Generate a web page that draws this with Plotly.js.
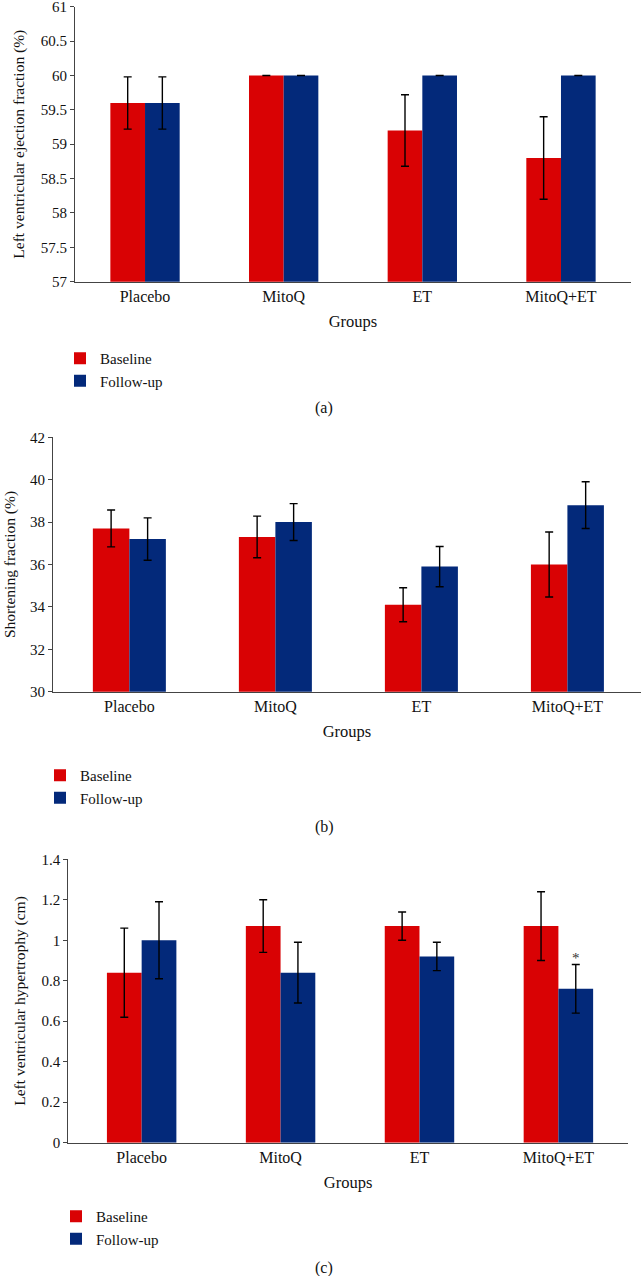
<!DOCTYPE html>
<html>
<head>
<meta charset="utf-8">
<script src="https://cdn.plot.ly/plotly-3.0.1.min.js"></script>
<style>html,body{margin:0;padding:0;background:#fff;}#chart{width:641px;height:1276px;}</style>
</head>
<body>
<div id="chart"></div>
<script>
// ---- data ----
const categories = ['Placebo', 'MitoQ', 'ET', 'MitoQ+ET'];
const seriesNames = ['Baseline', 'Follow-up'];

const efBaseline = [59.6, 60.0, 59.2, 58.8];
const efBaselineErr = [0.38, 0, 0.52, 0.6];
const efFollow = [59.6, 60.0, 60.0, 60.0];
const efFollowErr = [0.38, 0, 0, 0];

const sfBaseline = [37.7, 37.3, 34.1, 36.0];
const sfBaselineErr = [0.87, 0.98, 0.8, 1.53];
const sfFollow = [37.2, 38.0, 35.9, 38.8];
const sfFollowErr = [1.0, 0.87, 0.95, 1.1];

const lvhBaseline = [0.84, 1.07, 1.07, 1.07];
const lvhBaselineErr = [0.22, 0.13, 0.07, 0.17];
const lvhFollow = [1.0, 0.84, 0.92, 0.76];
const lvhFollowErr = [0.19, 0.15, 0.07, 0.12];
const lvhSignificance = ['', '', '', '*'];

const panelLabels = ['(a)', '(b)', '(c)'];
const yTitles = ['Left ventricular ejection fraction (%)', 'Shortening fraction (%)', 'Left ventricular hypertrophy (cm)'];
const xTitle = 'Groups';

// ---- styles ----
const W = 641, H = 1276;
const RED = '#D90204', BLUE = '#03297A';
const FONT = 'Liberation Serif, Times New Roman, serif';
const AX = '#444';
const TXT = '#111';
const py = v => 1 - v / H;
const px = v => v / W;

function bar(name, y, err, color, k, legendId) {
  return {
    type: 'bar', name: name, x: categories, y: y,
    xaxis: 'x' + (k === 1 ? '' : k), yaxis: 'y' + (k === 1 ? '' : k),
    marker: {color: color, line: {width: 0}},
    error_y: {type: 'data', array: err, visible: true, color: '#000', thickness: 1.4, width: 4},
    legend: legendId, showlegend: true, hoverinfo: 'x+y'
  };
}

const data = [
  bar(seriesNames[0], efBaseline, efBaselineErr, RED, 1, 'legend'),
  bar(seriesNames[1], efFollow, efFollowErr, BLUE, 1, 'legend'),
  bar(seriesNames[0], sfBaseline, sfBaselineErr, RED, 2, 'legend2'),
  bar(seriesNames[1], sfFollow, sfFollowErr, BLUE, 2, 'legend2'),
  bar(seriesNames[0], lvhBaseline, lvhBaselineErr, RED, 3, 'legend3'),
  bar(seriesNames[1], lvhFollow, lvhFollowErr, BLUE, 3, 'legend3')
];

function xax(dom, range, anchor) {
  return {
    domain: dom, range: range, anchor: anchor, type: 'category',
    showline: true, linecolor: AX, linewidth: 1, ticks: '', showgrid: false, zeroline: false,
    tickfont: {family: FONT, size: 16, color: TXT},
    title: {text: xTitle, font: {family: FONT, size: 16.5, color: TXT}, standoff: 11},
    fixedrange: true
  };
}
function yax(dom, range, dtick, anchor, title, standoff) {
  return {
    domain: dom, range: range, dtick: dtick, tick0: range[0], anchor: anchor,
    showline: true, linecolor: AX, linewidth: 1, ticks: 'outside', ticklen: 4, tickcolor: AX,
    showgrid: false, zeroline: false, ticklabeloverflow: 'allow',
    tickfont: {family: FONT, size: 15, color: TXT},
    title: {text: title, font: {family: FONT, size: 15.5, color: TXT}, standoff: standoff},
    fixedrange: true
  };
}
function leg(x, yTop) {
  return {x: x, y: yTop, xanchor: 'left', yanchor: 'top', bgcolor: 'rgba(0,0,0,0)',
    font: {family: FONT, size: 15, color: TXT}, traceorder: 'normal', orientation: 'v', borderwidth: 0};
}

const annotations = panelLabels.map((t, i) => ({
  text: t, xref: 'paper', yref: 'paper', x: px(324), y: py([408, 827, 1268][i]),
  xanchor: 'center', yanchor: 'middle', showarrow: false,
  font: {family: FONT, size: 16, color: TXT}
}));
lvhSignificance.forEach((s, i) => {
  if (!s) return;
  annotations.push({
    text: s, xref: 'x3', yref: 'y3', x: i + 0.125, y: lvhFollow[i] + lvhFollowErr[i],
    xanchor: 'center', yanchor: 'bottom', yshift: -3, showarrow: false,
    font: {family: FONT, size: 15, color: '#333'}
  });
});

const layout = {
  width: W, height: H, margin: {l: 0, r: 0, t: 0, b: 0, pad: 0},
  paper_bgcolor: '#fff', plot_bgcolor: '#fff',
  font: {family: FONT, color: TXT},
  barmode: 'group', bargap: 0.5, bargroupgap: 0,
  xaxis: xax([px(75), px(631)], [-0.505, 3.505], 'y'),
  yaxis: yax([py(281.7), py(6.7)], [57, 61], 0.5, 'x', yTitles[0], 12),
  xaxis2: xax([px(53), px(641)], [-0.523, 3.504], 'y2'),
  yaxis2: yax([py(691.7), py(437.3)], [30, 42], 2, 'x2', yTitles[1], 10),
  xaxis3: xax([px(68.3), px(628)], [-0.528, 3.501], 'y3'),
  yaxis3: yax([py(1142.7), py(859.3)], [0, 1.4], 0.2, 'x3', yTitles[2], 12),
  legend: leg(px(60), py(342)),
  legend2: leg(px(40), py(759)),
  legend3: leg(px(56), py(1200)),
  annotations: annotations
};

Plotly.newPlot('chart', data, layout, {displayModeBar: false, staticPlot: true});
</script>
</body>
</html>
